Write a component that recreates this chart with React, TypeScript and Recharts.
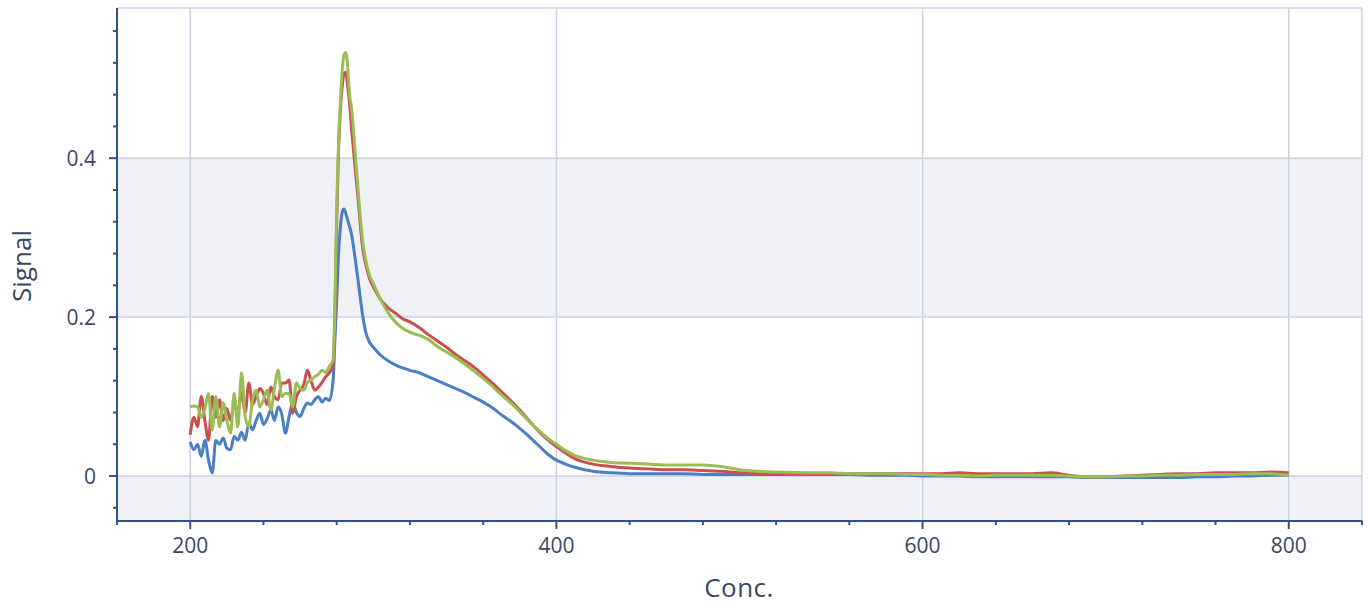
import { LineChart, Line, XAxis, YAxis, ReferenceLine, ReferenceArea, Label } from "recharts"

const conc = [
  200, 202, 204, 206, 208, 210, 212, 214, 216, 218, 220, 222, 224, 226, 228, 230, 232, 234, 236, 238,
  240, 242, 244, 246, 248, 250, 252, 254, 256, 258, 260, 262, 264, 266, 268, 270, 272, 274, 276,
  278, 279, 280, 281, 282, 283, 284, 285, 286, 287, 288, 290, 292, 294, 296, 298, 300, 304, 308, 312, 316,
  320, 325, 330, 335, 340, 345, 350, 355, 360, 365, 370, 375, 380, 385, 390, 395, 400, 405, 410, 420,
  430, 440, 450, 460, 470, 480, 490, 500, 510, 520, 540, 550, 560, 570, 580, 590, 600, 610, 620, 630,
  640, 650, 660, 670, 680, 690, 700, 710, 720, 730, 740, 750, 760, 770, 780, 790, 800,
]

const blue = [
  0.043, 0.033, 0.04, 0.025, 0.045, 0.02, 0.004, 0.045, 0.04, 0.048, 0.035, 0.033, 0.05, 0.045, 0.055, 0.045, 0.067, 0.058, 0.07, 0.079,
  0.065, 0.072, 0.083, 0.07, 0.087, 0.078, 0.054, 0.075, 0.092, 0.08, 0.075, 0.085, 0.092, 0.09, 0.096, 0.1, 0.093, 0.098, 0.095,
  0.12, 0.17, 0.22, 0.28, 0.313, 0.332, 0.336, 0.33, 0.322, 0.314, 0.305, 0.275, 0.24, 0.205, 0.18, 0.168, 0.162, 0.152, 0.145, 0.14, 0.136,
  0.133, 0.13, 0.125, 0.12, 0.115, 0.11, 0.105, 0.099, 0.093, 0.086, 0.077, 0.069, 0.06, 0.05, 0.039, 0.028, 0.02, 0.015, 0.011, 0.006,
  0.004, 0.003, 0.003, 0.003, 0.003, 0.002, 0.002, 0.002, 0.002, 0.002, 0.002, 0.002, 0.002, 0.001, 0.001, 0.001, 0.0, 0.0, 0.0, -0.001,
  -0.001, -0.001, -0.001, -0.001, -0.001, -0.002, -0.002, -0.002, -0.002, -0.002, -0.002, -0.001, -0.001, 0.0, 0.0, 0.001, 0.001,
]

const red = [
  0.052, 0.074, 0.062, 0.1, 0.07, 0.045, 0.1, 0.074, 0.096, 0.07, 0.085, 0.07, 0.09, 0.08, 0.105, 0.08, 0.117, 0.09, 0.1, 0.11,
  0.104, 0.09, 0.112, 0.1, 0.096, 0.117, 0.117, 0.121, 0.079, 0.1, 0.108, 0.115, 0.133, 0.12, 0.108, 0.112, 0.118, 0.125, 0.13,
  0.14, 0.2, 0.32, 0.41, 0.46, 0.49, 0.506, 0.508, 0.49, 0.47, 0.44, 0.39, 0.34, 0.29, 0.265, 0.248, 0.238, 0.222, 0.212, 0.205, 0.198,
  0.194, 0.187, 0.178, 0.17, 0.162, 0.153, 0.145, 0.137, 0.127, 0.117, 0.106, 0.095, 0.083, 0.07, 0.057, 0.046, 0.037, 0.029, 0.022, 0.015,
  0.012, 0.01, 0.009, 0.008, 0.008, 0.007, 0.006, 0.004, 0.003, 0.003, 0.003, 0.003, 0.003, 0.003, 0.003, 0.003, 0.003, 0.003, 0.004, 0.003,
  0.003, 0.003, 0.003, 0.004, 0.001, -0.001, -0.001, 0.0, 0.001, 0.002, 0.003, 0.003, 0.004, 0.004, 0.004, 0.005, 0.004,
]

const green = [
  0.087, 0.088, 0.087, 0.074, 0.085, 0.104, 0.058, 0.1, 0.062, 0.092, 0.07, 0.054, 0.104, 0.062, 0.13, 0.075, 0.062, 0.096, 0.108, 0.087,
  0.096, 0.108, 0.083, 0.11, 0.133, 0.1, 0.104, 0.104, 0.087, 0.117, 0.11, 0.108, 0.118, 0.121, 0.125, 0.128, 0.133, 0.13, 0.138,
  0.146, 0.21, 0.34, 0.42, 0.47, 0.51, 0.53, 0.533, 0.515, 0.48, 0.465, 0.41, 0.35, 0.3, 0.27, 0.252, 0.242, 0.222, 0.206, 0.194, 0.186,
  0.181, 0.177, 0.172, 0.163, 0.156, 0.149, 0.141, 0.132, 0.123, 0.113, 0.102, 0.092, 0.081, 0.069, 0.058, 0.048, 0.04, 0.032, 0.026, 0.02,
  0.017, 0.016, 0.015, 0.014, 0.014, 0.014, 0.012, 0.008, 0.006, 0.005, 0.004, 0.004, 0.003, 0.003, 0.003, 0.002, 0.002, 0.001, 0.001, 0.0,
  0.001, 0.001, 0.001, 0.001, 0.0, -0.001, -0.001, 0.0, 0.0, 0.001, 0.001, 0.002, 0.002, 0.002, 0.003, 0.003, 0.001,
]

const xTicks = [160, 200, 240, 280, 320, 360, 400, 440, 480, 520, 560, 600, 640, 680, 720, 760, 800, 840]
const xLabels = [200, 400, 600, 800]
const yTicks = [-0.04, 0, 0.04, 0.08, 0.12, 0.16, 0.2, 0.24, 0.28, 0.32, 0.36, 0.4, 0.44, 0.48, 0.52, 0.56]
const yLabels = [0, 0.2, 0.4]

const Y_MIN = -0.0566
const Y_MAX = 0.589

const data = conc.map((c, i) => ({ conc: c, a: blue[i], b: red[i], c: green[i] }))

const axisColor = "#2f5089"
const gridColor = "#c9d3e2"
const bandColor = "#eff1f6"
const textColor = "#3a4866"
const font = "'Open Sans', 'Noto Sans', sans-serif"

function XTick(props: any) {
  const { x, y, payload } = props
  const major = xLabels.includes(payload.value)
  return (
    <g>
      <line x1={x} x2={x} y1={y} y2={y + (major ? 8 : 4)} stroke={axisColor} strokeWidth={2} />
      {major && (
        <text x={x} y={y + 32} textAnchor="middle" fill={textColor} fontSize={21} fontFamily={font}>
          {payload.value}
        </text>
      )}
    </g>
  )
}

function YTick(props: any) {
  const { x, y, payload } = props
  const major = yLabels.some((v) => Math.abs(v - payload.value) < 1e-9)
  return (
    <g>
      <line x1={x} x2={x - (major ? 8 : 4)} y1={y} y2={y} stroke={axisColor} strokeWidth={2} />
      {major && (
        <text x={x - 21} y={y + 8} textAnchor="end" fill={textColor} fontSize={21} fontFamily={font}>
          {Math.abs(payload.value) < 1e-9 ? "0" : payload.value}
        </text>
      )}
    </g>
  )
}

export default function App() {
  return (
    <div style={{ position: "absolute", left: 0, top: 0, background: "#fff" }}>
      <LineChart width={1368} height={606} data={data} margin={{ top: 8, right: 6, bottom: 25, left: 57 }}>
        <ReferenceArea y1={Y_MIN} y2={0} x1={160} x2={840} fill={bandColor} fillOpacity={1} stroke="none" />
        <ReferenceArea y1={0.2} y2={0.4} x1={160} x2={840} fill={bandColor} fillOpacity={1} stroke="none" />
        {xLabels.map((v) => (
          <ReferenceLine key={"vx" + v} x={v} stroke={gridColor} strokeWidth={1.5} />
        ))}
        {yLabels.map((v) => (
          <ReferenceLine key={"hy" + v} y={v} stroke={gridColor} strokeWidth={1.5} />
        ))}
        <ReferenceLine y={Y_MAX} stroke={gridColor} strokeWidth={1.5} />
        <ReferenceLine x={840} stroke={gridColor} strokeWidth={1.5} />
        <XAxis
          dataKey="conc"
          type="number"
          domain={[160, 840]}
          ticks={xTicks}
          interval={0}
          height={60}
          tickSize={0}
          tickMargin={0}
          tickLine={false}
          tick={<XTick />}
          axisLine={{ stroke: axisColor, strokeWidth: 2 }}
          allowDataOverflow
        >
          <Label
            content={() => (
              <text x={739} y={597} textAnchor="middle" fill={textColor} fontSize={26} letterSpacing={0.5} fontFamily={font}>
                Conc.
              </text>
            )}
          />
        </XAxis>
        <YAxis
          type="number"
          domain={[Y_MIN, Y_MAX]}
          ticks={yTicks}
          interval={0}
          width={60}
          tickSize={0}
          tickMargin={0}
          tickLine={false}
          tick={<YTick />}
          axisLine={{ stroke: axisColor, strokeWidth: 2 }}
          allowDataOverflow
        >
          <Label
            content={() => (
              <text
                x={31}
                y={266}
                transform="rotate(-90 31 266)"
                textAnchor="middle"
                fill={textColor}
                fontSize={26}
                fontFamily={font}
              >
                Signal
              </text>
            )}
          />
        </YAxis>
        <Line dataKey="a" stroke="#4a7fc1" strokeWidth={3} dot={false} type="monotone" isAnimationActive={false} />
        <Line dataKey="b" stroke="#c9504e" strokeWidth={3} dot={false} type="monotone" isAnimationActive={false} />
        <Line dataKey="c" stroke="#9bbd55" strokeWidth={3} dot={false} type="monotone" isAnimationActive={false} />
      </LineChart>
    </div>
  )
}
